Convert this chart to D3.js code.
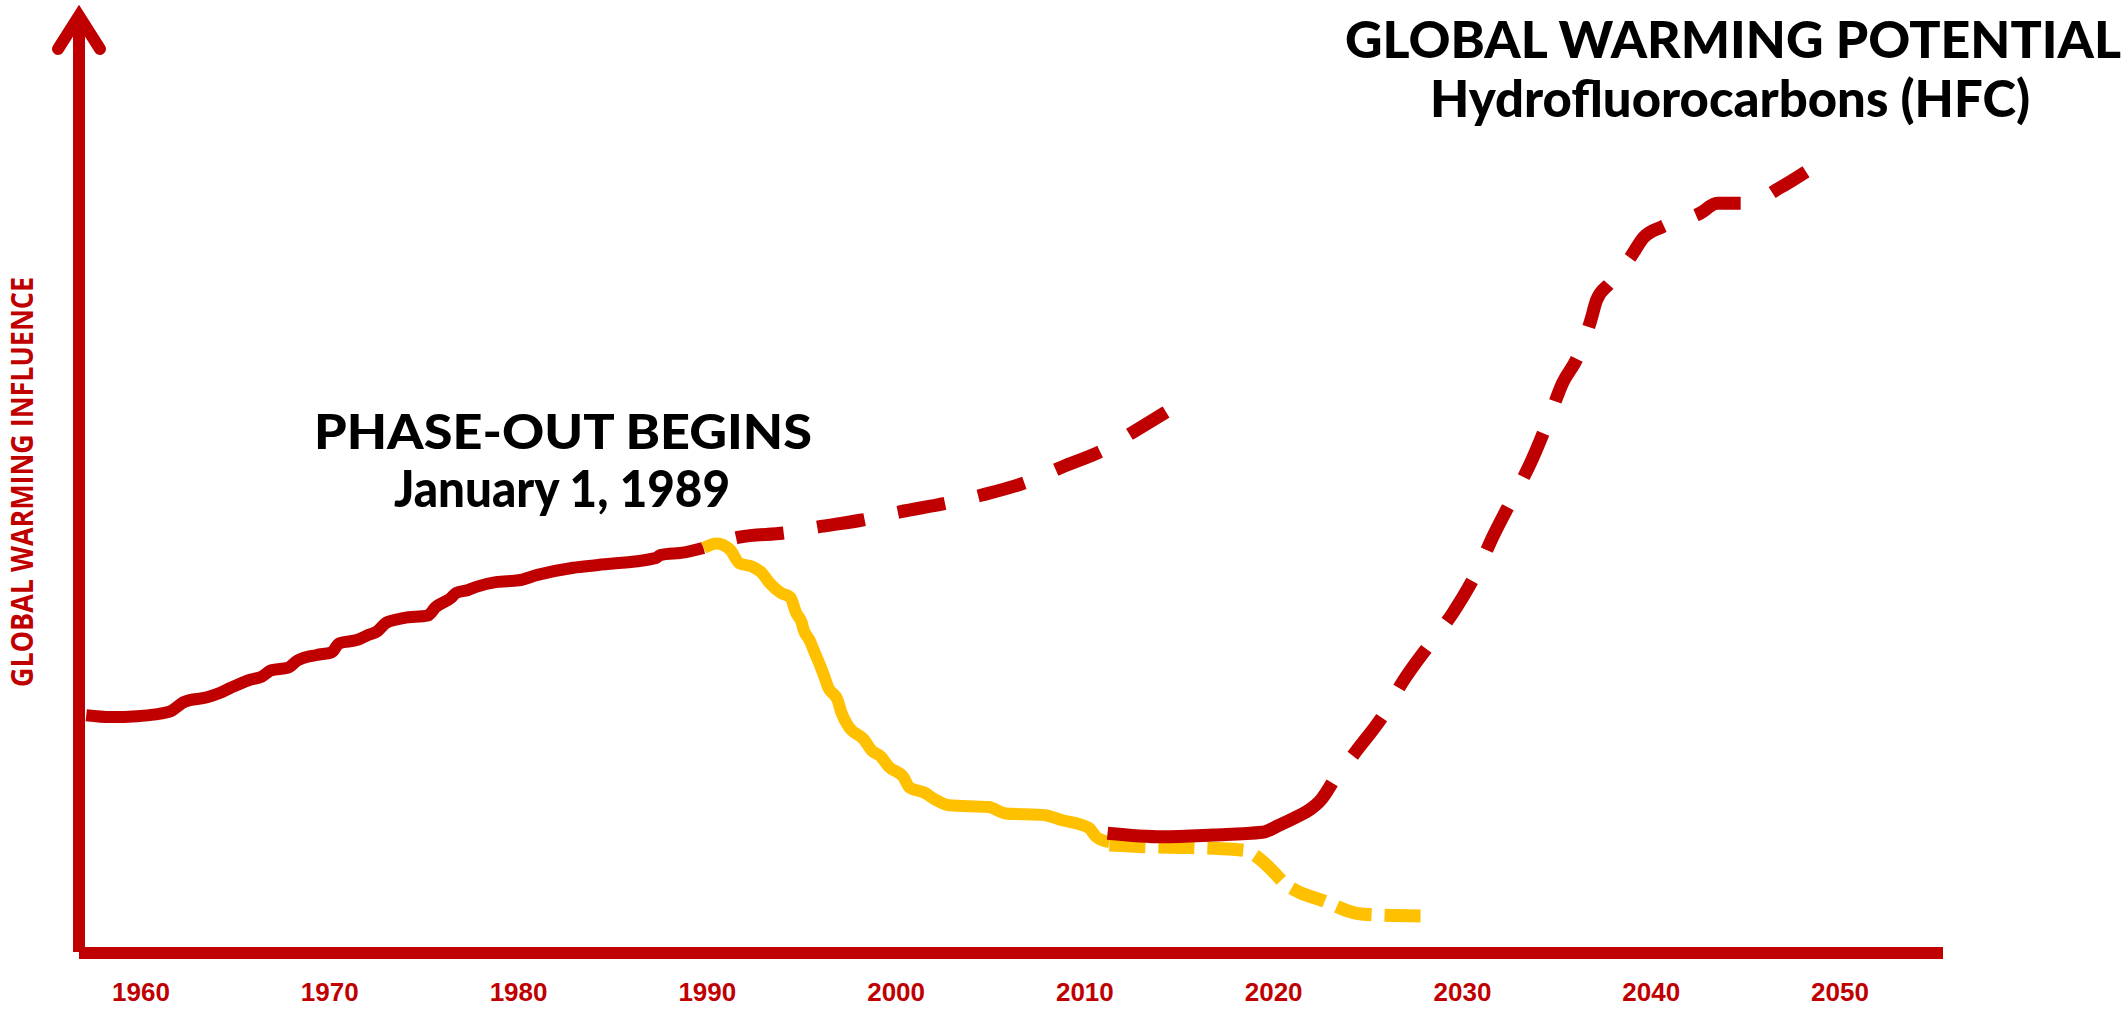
<!doctype html>
<html lang="en">
<head>
  <meta charset="utf-8">
  <title>Global warming potential - HFC</title>

<style>
 body{
   margin: 0;
   background-color: #fff;
 }
 #chart{
   width: 2126px;
   height: 1009px;
 }
 .tick-label{
   font-family: "Liberation Sans Narrow", "Liberation Sans", sans-serif;
   font-weight: bold;
   font-size: 26px;
   fill: #c00000;
 }
 .headline{
   font-family: Lato, "Open Sans", sans-serif;
   fill: #000;
 }
</style>
</head>
<body>

  <div id="chart"></div>

  <script src="https://cdn.jsdelivr.net/npm/d3@7/dist/d3.min.js"></script>
  <script type="text/javascript">

    // x axis labels
    var tickYears = [1960, 1970, 1980, 1990, 2000, 2010, 2020, 2030, 2040, 2050];

    // HFC influence before the phase-out (solid red)
    var histYears  = [1957.1, 1958.4, 1959.8, 1961.5, 1962.3, 1963.5, 1964.2, 1964.7, 1965.7, 1966.4, 1966.9, 1967.8, 1968.3, 1969.3, 1970.1, 1970.5, 1971.5, 1972.0, 1972.5, 1973.0, 1973.9, 1975.2, 1975.6, 1976.4, 1976.7, 1977.3, 1977.8, 1978.8, 1980.0, 1981.0, 1982.9, 1984.2, 1987.3, 1987.5, 1988.8, 1989.8];
    var histValues = [26.3, 26.1, 26.2, 26.7, 27.8, 28.3, 28.8, 29.3, 30.2, 30.6, 31.3, 31.6, 32.4, 33.0, 33.3, 34.3, 34.7, 35.2, 35.6, 36.6, 37.1, 37.4, 38.3, 39.3, 39.9, 40.2, 40.6, 41.1, 41.3, 41.9, 42.7, 43.0, 43.8, 44.1, 44.4, 44.9];

    // what HFC would have done without the ban (dashed red)
    var noBanYears  = [1989.8, 1991.7, 1994.2, 1995.8, 1998.2, 2000.2, 2002.7, 2004.6, 2006.9, 2008.8, 2011.0, 2012.5, 2014.3];
    var noBanValues = [44.9, 46.1, 46.6, 47.2, 48.0, 48.9, 49.9, 50.8, 52.2, 53.9, 55.8, 57.7, 60.0];

    // phase-out (solid yellow)
    var phaseYears  = [1989.8, 1990.5, 1991.2, 1991.7, 1992.4, 1992.9, 1993.3, 1993.9, 1994.4, 1994.7, 1995.0, 1995.1, 1995.4, 1995.7, 1996.0, 1996.2, 1996.4, 1996.9, 1997.1, 1997.5, 1998.3, 1998.7, 1999.2, 1999.6, 2000.4, 2000.7, 2001.5, 2002.1, 2002.8, 2004.9, 2005.8, 2007.9, 2008.7, 2010.2, 2010.6, 2011.3];
    var phaseValues = [44.9, 45.4, 44.7, 43.2, 42.8, 42.1, 41.0, 39.9, 39.4, 37.7, 36.6, 35.8, 34.7, 33.2, 31.7, 30.6, 29.4, 28.0, 26.6, 25.0, 23.6, 22.4, 21.7, 20.6, 19.4, 18.3, 17.7, 16.9, 16.3, 16.1, 15.4, 15.2, 14.7, 13.8, 12.8, 12.2];

    // phase-out continued (dashed yellow)
    var phaseOnYears  = [2011.3, 2013.3, 2015.7, 2018.4, 2019.1, 2019.9, 2020.6, 2021.4, 2022.5, 2024.4, 2025.6, 2028.3];
    var phaseOnValues = [11.9, 11.7, 11.6, 11.3, 10.6, 9.1, 7.6, 6.6, 5.8, 4.3, 4.1, 4.0];

    // HFC today (solid red)
    var nowYears  = [2011.2, 2014.1, 2016.8, 2019.4, 2020.3, 2021.2, 2021.9, 2022.5, 2023.1];
    var nowValues = [13.2, 12.8, 13.0, 13.3, 14.1, 15.0, 15.8, 16.9, 18.8];

    // HFC forecast (dashed red)
    var futureYears  = [2023.1, 2024.4, 2025.8, 2026.8, 2028.3, 2029.5, 2030.8, 2031.6, 2032.7, 2033.6, 2034.5, 2035.3, 2036.1, 2036.8, 2037.1, 2037.8, 2038.9, 2039.6, 2040.6, 2042.6, 2043.5, 2045.1, 2046.8, 2048.2];
    var futureValues = [18.8, 22.4, 26.3, 29.9, 34.3, 37.7, 42.4, 46.1, 50.6, 54.3, 58.8, 63.2, 66.1, 70.2, 72.4, 74.3, 77.2, 79.4, 80.6, 82.1, 83.2, 83.2, 84.9, 86.7];

    var chartWidth = 2126;
    var chartHeight = 1009;
    var red = '#c00000';
    var yellow = '#ffc000';

    var svg = d3.select('#chart')
      .append('svg')
      .attr('width', chartWidth)
      .attr('height', chartHeight);

    var xscale = d3.scaleLinear()
                .domain([1960, 2050])
                .range([141, 1840]);

    var yscale = d3.scaleLinear()
                .domain([0, 100])
                .range([952, 52]);

    var axisX = 79;
    var axisEnd = 1943;

    // axes drawn as plain thick strokes with an arrow on top
    svg.append('line')
      .attr('x1', axisX).attr('y1', 16)
      .attr('x2', axisX).attr('y2', yscale(0))
      .attr('stroke', red)
      .attr('stroke-width', 12);

    svg.append('line')
      .attr('x1', axisX).attr('y1', yscale(0) + 1)
      .attr('x2', axisEnd).attr('y2', yscale(0) + 1)
      .attr('stroke', red)
      .attr('stroke-width', 12);

    svg.append('path')
      .attr('d', 'M' + (axisX - 21) + ',49 L' + axisX + ',16 L' + (axisX + 21) + ',49')
      .attr('fill', 'none')
      .attr('stroke', red)
      .attr('stroke-width', 12)
      .attr('stroke-linecap', 'round')
      .attr('stroke-linejoin', 'miter');

    svg.append('g').selectAll('text')
      .data(tickYears)
      .enter()
      .append('text')
      .attr('class', 'tick-label')
      .attr('x', function(d){ return xscale(d); })
      .attr('y', 1001)
      .attr('text-anchor', 'middle')
      .text(function(d){ return d; });

    svg.append('text')
      .attr('transform', 'translate(33,482) rotate(-90)')
      .attr('text-anchor', 'middle')
      .attr('textLength', 410)
      .attr('lengthAdjust', 'spacingAndGlyphs')
      .style('font-family', '"Open Sans", Lato, sans-serif')
      .style('font-weight', 'bold')
      .style('font-size', '31px')
      .style('fill', red)
      .text('GLOBAL WARMING INFLUENCE');

    var line = d3.line()
      .x(function(d){ return xscale(d[0]); })
      .y(function(d){ return yscale(d[1]); })
      .curve(d3.curveMonotoneX);

    function drawSeries(years, values, color, width, dash, offset){
      var pts = years.map(function(y, i){ return [y, values[i]]; });
      var p = svg.append('path')
        .datum(pts)
        .attr('d', line)
        .attr('fill', 'none')
        .attr('stroke', color)
        .attr('stroke-width', width)
        .attr('stroke-linejoin', 'round');
      if( dash ){
        p.attr('stroke-dasharray', dash)
         .attr('stroke-dashoffset', offset);
      }
    }

    drawSeries(histYears, histValues, red, 12);
    drawSeries(noBanYears, noBanValues, red, 13, '48 34', 48);
    drawSeries(phaseYears, phaseValues, yellow, 12);
    drawSeries(phaseOnYears, phaseOnValues, yellow, 13, '36 13', 0);
    drawSeries(nowYears, nowValues, red, 13);
    drawSeries(futureYears, futureValues, red, 13, '48 34', 48);

    // annotations
    svg.append('text')
      .attr('class', 'headline')
      .attr('x', 1733).attr('y', 58)
      .attr('text-anchor', 'middle')
      .attr('textLength', 776)
      .attr('lengthAdjust', 'spacingAndGlyphs')
      .style('font-size', '51px')
      .style('font-weight', 900)
      .text('GLOBAL WARMING POTENTIAL');

    svg.append('text')
      .attr('class', 'headline')
      .attr('x', 1730).attr('y', 117)
      .attr('text-anchor', 'middle')
      .attr('textLength', 600)
      .attr('lengthAdjust', 'spacingAndGlyphs')
      .style('font-size', '51px')
      .style('font-weight', 900)
      .text('Hydrofluorocarbons (HFC)');

    svg.append('text')
      .attr('class', 'headline')
      .attr('x', 563).attr('y', 449)
      .attr('text-anchor', 'middle')
      .attr('textLength', 498)
      .attr('lengthAdjust', 'spacingAndGlyphs')
      .style('font-size', '48px')
      .style('font-weight', 900)
      .text('PHASE-OUT BEGINS');

    svg.append('text')
      .attr('class', 'headline')
      .attr('x', 562).attr('y', 507)
      .attr('text-anchor', 'middle')
      .attr('textLength', 336)
      .attr('lengthAdjust', 'spacingAndGlyphs')
      .style('font-size', '51px')
      .style('font-weight', 900)
      .text('January 1, 1989');

  </script>
</body>
</html>
